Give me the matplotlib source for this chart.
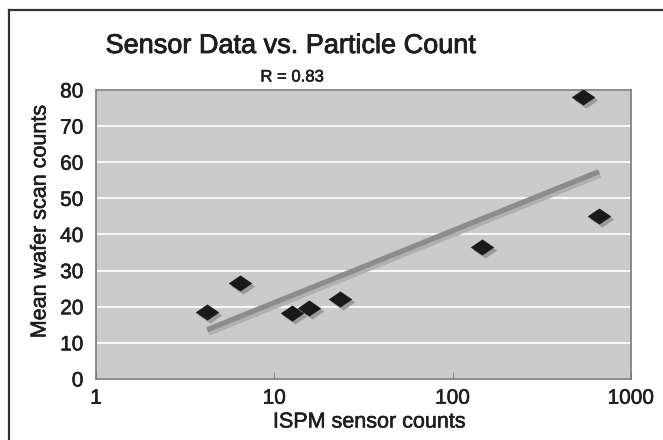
import numpy as np
import matplotlib
matplotlib.use("Agg")
import matplotlib.pyplot as plt
import matplotlib.patheffects as pe
from matplotlib.path import Path
from matplotlib.transforms import offset_copy
from matplotlib.lines import Line2D

# data
sensor_counts = [4.2, 6.4, 12.5, 15.7, 23.4, 146, 539, 662]
wafer_counts = [18.6, 26.5, 18.2, 19.6, 22.2, 36.5, 78.1, 45.2]
x_ticks = [1, 10, 100, 1000]
x_tick_labels = ["1", "10", "100", "1000"]
y_ticks = [0, 10, 20, 30, 40, 50, 60, 70, 80]

plt.rcParams['font.family'] = ['Liberation Sans', 'DejaVu Sans']

# scanned text looks a little heavier than plain regular weight
heavy = [pe.withStroke(linewidth=0.4, foreground='#1e1e1e')]

fig = plt.figure(figsize=(6.63, 4.40), dpi=100)
fig.patch.set_facecolor('white')
ax = fig.add_axes([96 / 663, 61 / 440, 535 / 663, 289 / 440])
ax.set_facecolor('#cbcbcb')

# flattened diamond marker
diamond = Path([(-1, 0), (0, 0.68), (1, 0), (0, -0.68), (-1, 0)],
               [Path.MOVETO, Path.LINETO, Path.LINETO, Path.LINETO, Path.CLOSEPOLY])

# log fit trend line
lx = np.log10(sensor_counts)
b, a = np.polyfit(lx, wafer_counts, 1)
fit_x = np.array([min(sensor_counts), max(sensor_counts)])
fit_y = a + b * np.log10(fit_x)
r = np.corrcoef(lx, wafer_counts)[0, 1]

shadow_tr = offset_copy(ax.transData, fig=fig, x=1, y=-3, units='dots')
ax.plot(fit_x, fit_y, color='#b0b0b0', lw=4.6, solid_capstyle='butt',
        transform=shadow_tr, zorder=3)
ax.plot(fit_x, fit_y, color='#8c8c8c', lw=3.8, solid_capstyle='butt', zorder=4)

mshadow_tr = offset_copy(ax.transData, fig=fig, x=3, y=-3, units='dots')
ax.plot(sensor_counts, wafer_counts, ls='none', marker=diamond, ms=17,
        color='#9a9a9a', mec='none', transform=mshadow_tr, zorder=5)
ax.plot(sensor_counts, wafer_counts, ls='none', marker=diamond, ms=17,
        color='#1a1a1a', mec='none', zorder=6)

ax.set_xscale('log')
ax.set_xlim(1, 1000)
ax.set_ylim(0, 80)
ax.set_xticks(x_ticks)
ax.set_xticklabels(x_tick_labels)
ax.xaxis.set_minor_locator(matplotlib.ticker.NullLocator())
ax.set_yticks(y_ticks)
ax.tick_params(axis='x', direction='in', length=5, color='#888888', pad=7,
               labelsize=15, labelcolor='#1e1e1e')
ax.tick_params(axis='y', length=0, pad=9, labelsize=15, labelcolor='#1e1e1e')
for lab in ax.get_xticklabels() + ax.get_yticklabels():
    lab.set_path_effects(heavy)

ax.grid(axis='y', color='white', lw=1.3)
ax.set_axisbelow(True)
for s in ax.spines.values():
    s.set_color('#7a7a7a')
    s.set_linewidth(1.2)

fig.text(369 / 663, 1 - 422 / 440, "ISPM sensor counts", ha='center', va='center',
         fontsize=15.5, color='#1e1e1e', path_effects=heavy)
fig.text(40 / 663, 1 - 222 / 440, "Mean wafer scan counts", ha='center', va='center',
         rotation=90, fontsize=15.5, color='#1e1e1e', path_effects=heavy)
fig.text(291 / 663, 1 - 46 / 440, "Sensor Data vs. Particle Count", ha='center',
         va='center', fontsize=19.5, color='#1e1e1e',
         path_effects=[pe.withStroke(linewidth=0.6, foreground='#1e1e1e')])
fig.text(292 / 663, 1 - 77 / 440, "R = %.2f" % r, ha='center', va='center',
         fontsize=12, color='#1e1e1e', path_effects=heavy)

# frame round the figure (cut off at right and bottom)
fig.add_artist(Line2D([9 / 663, 1], [1 - 10 / 440] * 2, color='#333333', lw=1.6))
fig.add_artist(Line2D([9 / 663] * 2, [0, 1 - 10 / 440], color='#333333', lw=1.6))

fig.savefig("out.png", dpi=100)
